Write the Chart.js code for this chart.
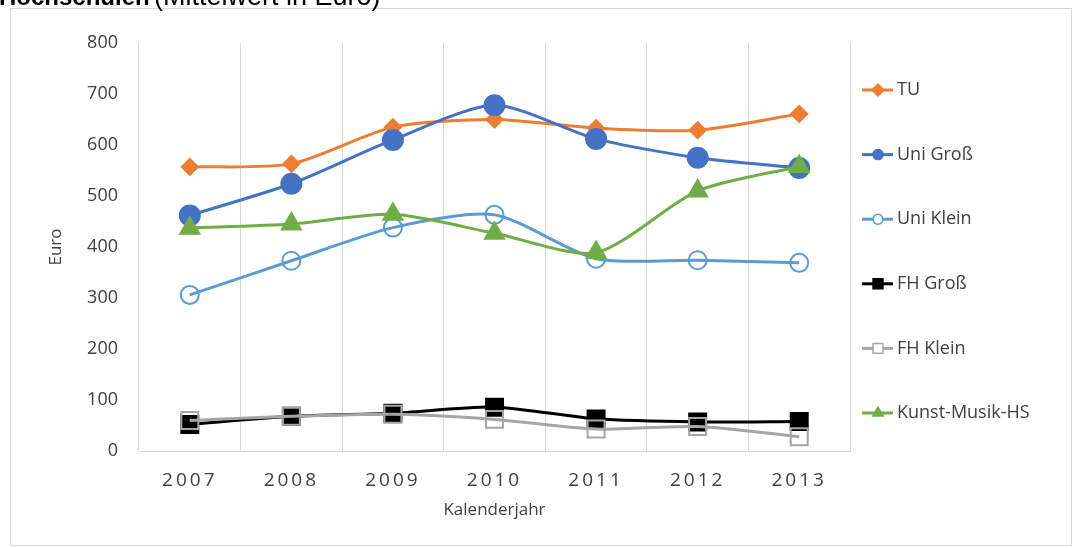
<!DOCTYPE html>
<html>
<head>
<meta charset="utf-8">
<script src="https://cdn.jsdelivr.net/npm/chart.js@4.4.1/dist/chart.umd.min.js"></script>
<style>
  html, body { margin: 0; padding: 0; background: #fff; }
  canvas { display: block; }
</style>
</head>
<body>
<canvas id="myChart" width="1076" height="548"></canvas>
<script>
// Kalenderjahre
var years = ['2007', '2008', '2009', '2010', '2011', '2012', '2013'];

// Mittelwert in Euro je Hochschultyp
var tu = [557, 563, 635, 650, 633, 629, 661];
var uniGross = [462, 524, 610, 678, 612, 575, 555];
var uniKlein = [306, 373, 438, 463, 377, 374, 369];
var fhGross = [52, 68, 74, 86, 63, 57, 58];
var fhKlein = [60, 68, 72, 62, 43, 48, 28];
var kunst = [437, 445, 464, 427, 389, 510, 558];

var yTicks = [0, 100, 200, 300, 400, 500, 600, 700, 800];

var font = '"Open Sans", "Liberation Sans", sans-serif';
var textColor = '#404040';
var gridColor = '#d9d9d9';

function series(label, data, color, style, radius, fill, order) {
    return {
        label: label,
        data: data,
        borderColor: color,
        backgroundColor: color,
        borderWidth: 3,
        tension: 0.25,
        pointStyle: style,
        pointRadius: radius,
        pointHoverRadius: radius,
        pointBackgroundColor: fill,
        pointBorderColor: color,
        pointBorderWidth: 2,
        order: order
    };
}

var datasets = [
    series('TU', tu, '#ED7D31', 'rectRot', 8, '#ED7D31', 6),
    series('Uni Groß', uniGross, '#4472C4', 'circle', 10, '#4472C4', 5),
    series('Uni Klein', uniKlein, '#5B9BD5', 'circle', 9, 'rgba(0,0,0,0)', 4),
    series('FH Groß', fhGross, '#000000', 'rect', 12, '#000000', 3),
    series('FH Klein', fhKlein, '#A5A5A5', 'rect', 12, 'rgba(0,0,0,0)', 2),
    series('Kunst-Musik-HS', kunst, '#70AD47', 'triangle', 11, '#70AD47', 1)
];

// kleine Marker für die Legende
var legendRadius = { rectRot: 6, circle: 5, rect: 7, triangle: 6 };

// Rahmen, abgeschnittene Überschrift, Legende
var decor = {
    id: 'decor',
    beforeDraw: function (chart) {
        var ctx = chart.ctx;
        ctx.save();
        ctx.fillStyle = '#fff';
        ctx.fillRect(0, 0, chart.width, chart.height);
        ctx.strokeStyle = gridColor;
        ctx.lineWidth = 1;
        ctx.strokeRect(10.5, 8.5, 1061, 537);
        ctx.fillStyle = '#000';
        ctx.textBaseline = 'alphabetic';
        ctx.font = 'bold 24px "Liberation Sans", Arial, sans-serif';
        ctx.fillText('Hochschulen', -1, 5);
        ctx.font = '27px "Liberation Sans", Arial, sans-serif';
        ctx.fillText('(Mittelwert in Euro)', 154, 5);
        ctx.restore();
    },
    afterDatasetsDraw: function (chart) {
        chart.ctx.letterSpacing = '3px';
    },
    afterDraw: function (chart) {
        var ctx = chart.ctx;
        ctx.save();
        ctx.letterSpacing = '0px';
        chart.data.datasets.forEach(function (ds, i) {
            var y = 90 + i * 64.6;
            ctx.strokeStyle = ds.borderColor;
            ctx.lineWidth = ds.borderWidth;
            ctx.beginPath();
            ctx.moveTo(862, y);
            ctx.lineTo(893, y);
            ctx.stroke();
            ctx.fillStyle = ds.pointBackgroundColor === 'rgba(0,0,0,0)' ? '#fff' : ds.pointBackgroundColor;
            ctx.strokeStyle = ds.pointBorderColor;
            ctx.lineWidth = 1.5;
            Chart.helpers.drawPoint(ctx, {
                pointStyle: ds.pointStyle,
                radius: legendRadius[ds.pointStyle],
                rotation: 0,
                borderWidth: 1.5
            }, 878, y);
            ctx.fillStyle = textColor;
            ctx.font = '18px ' + font;
            ctx.textBaseline = 'middle';
            ctx.textAlign = 'left';
            ctx.fillText(ds.label, 897, y);
        });
        ctx.restore();
    }
};

new Chart(document.getElementById('myChart'), {
    type: 'line',
    data: {
        labels: years,
        datasets: datasets
    },
    options: {
        responsive: false,
        devicePixelRatio: 1,
        animation: false,
        layout: {
            padding: { left: 0, top: 43, right: 226, bottom: 0 }
        },
        plugins: {
            legend: { display: false },
            tooltip: { enabled: false }
        },
        scales: {
            x: {
                offset: true,
                afterFit: function (s) { s.height = 97; },
                grid: {
                    offset: true,
                    color: gridColor,
                    lineWidth: 1,
                    drawTicks: false
                },
                border: { color: gridColor, width: 1 },
                ticks: {
                    z: 1,
                    padding: 18,
                    color: textColor,
                    font: { family: font, size: 19 }
                },
                title: {
                    display: true,
                    text: 'Kalenderjahr',
                    color: textColor,
                    font: { family: font, size: 17 },
                    padding: { top: 0, bottom: 28 }
                }
            },
            y: {
                min: 0,
                max: 800,
                afterFit: function (s) { s.width = 139; },
                afterBuildTicks: function (s) {
                    s.ticks = yTicks.map(function (v) { return { value: v }; });
                },
                grid: { display: false, drawTicks: false },
                border: { display: false },
                ticks: {
                    padding: 21,
                    color: textColor,
                    font: { family: font, size: 18 }
                },
                title: {
                    display: true,
                    text: 'Euro',
                    color: textColor,
                    font: { family: font, size: 17 },
                    padding: { top: 46, bottom: 0 }
                }
            }
        }
    },
    plugins: [decor]
});
</script>
</body>
</html>
